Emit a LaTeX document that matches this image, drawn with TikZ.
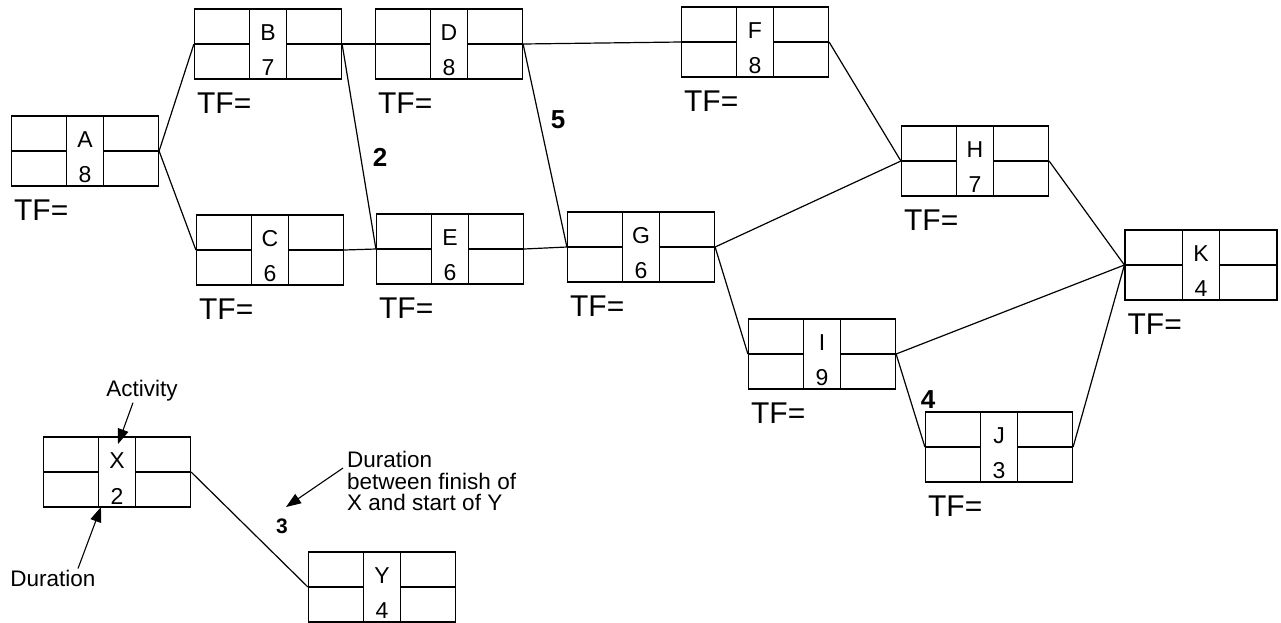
\documentclass[tikz,border=0pt]{standalone}
\usepackage{fontspec}
\setmainfont{Liberation Sans}
\usetikzlibrary{arrows.meta,positioning}

\begin{document}
\begin{tikzpicture}[x=1pt, y=-1pt,
  % Node styles
  act/.style={draw, line width=1.2pt, minimum width=147pt, minimum height=70pt, inner sep=0pt,
              path picture={
                \draw[line width=1.2pt]
                  ([xshift=-18.5pt]path picture bounding box.north) -- ([xshift=-18.5pt]path picture bounding box.south)
                  ([xshift=18.5pt]path picture bounding box.north) -- ([xshift=18.5pt]path picture bounding box.south)
                  (path picture bounding box.west) -- ([xshift=-18.5pt]path picture bounding box.center)
                  ([xshift=18.5pt]path picture bounding box.center) -- (path picture bounding box.east);
              }},
  ltr/.style={font=\fontsize{23}{23}\selectfont, inner sep=0pt},
  tf/.style={font=\fontsize{30}{30}\selectfont, inner sep=0pt, anchor=west},
  lag/.style={font=\bfseries\fontsize{26}{26}\selectfont, inner sep=0pt},
  note/.style={font=\fontsize{22.5}{21.5}\selectfont, inner sep=1pt, align=left},
  % Connector styles
  link/.style={line width=1.2pt},
  ptr/.style={-{Triangle[length=15pt,width=11pt]}, line width=1.1pt},
]

\useasboundingbox (0,0) rectangle (1281,622);
\clip (0,0) rectangle (1281,622);

% === Activity boxes ===
\node[act] (A) at (85,151)  {};
\node[act] (B) at (268,44)  {};
\node[act] (C) at (270,250) {};
\node[act] (D) at (449,44)  {};
\node[act] (E) at (450,249) {};
\node[act] (F) at (755,42)  {};
\node[act] (G) at (641,247) {};
\node[act] (H) at (975,161) {};
\node[act] (I) at (822,354) {};
\node[act] (J) at (999,447) {};
\node[act, minimum width=152pt] (K) at (1201,265) {};

% === Key boxes ===
\node[act] (X) at (117,472) {};
\node[act] (Y) at (382,587) {};

% === Box texts: activity above, duration below ===
\foreach \n/\d in {A/8,B/7,C/6,D/8,E/6,F/8,G/6,H/7,I/9,J/3,K/4,X/2,Y/4} {
  \node[ltr] (\n-name) at ([yshift=11pt]\n.center) {\n};
  \node[ltr] (\n-dur)  at ([yshift=-24pt]\n.center) {\d};
}

% === Total float labels ===
\foreach \n in {A,B,C,D,E,F,G,H,I,J,K} {
  \node[tf] (\n-tf) at ([xshift=3pt,yshift=-24pt]\n.south west) {TF=};
}

% === Links ===
\draw[link] (A.east) -- (B.west);
\draw[link] (A.east) -- (C.west);
\draw[link] (B.east) -- (D.west);
\draw[link] (B.east) -- (E.west);
\draw[link] (C.east) -- (E.west);
\draw[link] (D.east) -- (F.west);
\draw[link] (D.east) -- (G.west);
\draw[link] (E.east) -- (G.west);
\draw[link] (F.east) -- (H.west);
\draw[link] (G.east) -- (H.west);
\draw[link] (G.east) -- (I.west);
\draw[link] (H.east) -- (K.west);
\draw[link] (I.east) -- (K.west);
\draw[link] (I.east) -- (J.west);
\draw[link] (J.east) -- (K.west);
\draw[link] (X.east) -- (Y.west);

% === Lag labels ===
\node[lag] (lagBE) at (380,157) {2};
\node[lag] (lagDG) at (558,120) {5};
\node[lag] (lagIJ) at (928,400) {4};
\node[lag, font=\bfseries\fontsize{21}{21}\selectfont] (lagXY) at (282,526) {3};

% === Key notes ===
\node[note] (act-lbl) at (142,391) {Activity};
\node[note] (dur-lbl) at (53,578) {Duration};
\node[note, anchor=west, inner sep=0pt] (gap-lbl) at (347,481) {Duration\\between finish of\\X and start of Y};

\coordinate (act-tip) at (118,444);
\coordinate (dur-tip) at (101,507);
\coordinate (gap-tip) at (286,507);

\draw[ptr] ([xshift=-9pt]act-lbl.south) -- (act-tip);
\draw[ptr] ([xshift=25pt]dur-lbl.north) -- (dur-tip);
\draw[ptr] ([xshift=-4pt,yshift=-17pt]gap-lbl.north west) -- (gap-tip);

\end{tikzpicture}
\end{document}
